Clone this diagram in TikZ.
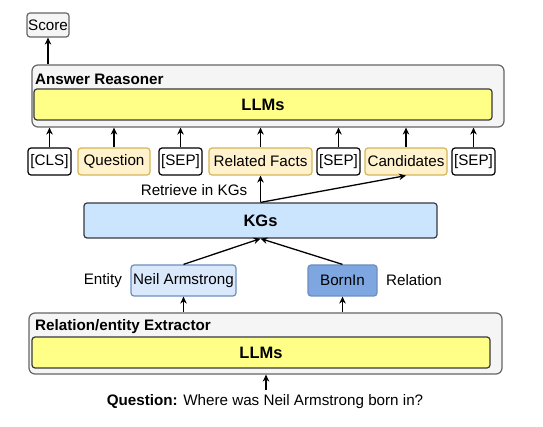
\documentclass[tikz,border=0pt]{standalone}
\usepackage{fontspec}
\setmainfont{Liberation Sans}
\usetikzlibrary{positioning, arrows.meta}

\definecolor{boxgray}{HTML}{F5F5F5}
\definecolor{linegray}{HTML}{666666}
\definecolor{llmfill}{HTML}{FFFF88}
\definecolor{darkline}{HTML}{36393D}
\definecolor{tokfill}{HTML}{FFF2CC}
\definecolor{tokline}{HTML}{D6B656}
\definecolor{kgfill}{HTML}{CCE5FF}
\definecolor{entfill}{HTML}{DAE8FC}
\definecolor{relfill}{HTML}{7EA6E0}
\definecolor{blueline}{HTML}{6C8EBF}

\tikzset{
    every node/.style={font=\fontsize{15.2}{18}\selectfont},
    frame/.style={draw=linegray, fill=boxgray, rounded corners=6pt, line width=1.2pt},
    llm/.style={draw=darkline, fill=llmfill, rounded corners=3pt, line width=1.2pt,
        minimum width=458pt, minimum height=31pt, font=\fontsize{16.5}{19}\selectfont\bfseries},
    tok/.style={draw=black, fill=white, rounded corners=3pt, line width=1.2pt,
        minimum width=43pt, minimum height=27pt, inner sep=1pt},
    ytok/.style={tok, draw=tokline, fill=tokfill},
    arr/.style={line width=1.3pt, -{Stealth[length=7pt, width=6.5pt]}}
}

\begin{document}
\begin{tikzpicture}[x=1pt, y=-1pt]
    \useasboundingbox (0,0) rectangle (543,427);

    % answer reasoner
    \node [draw=linegray, fill=boxgray, rounded corners=3pt, line width=1.2pt,
        minimum width=42pt, minimum height=24pt, inner sep=1pt] (score) at (48,25) {Score};
    \node [frame, minimum width=472pt, minimum height=62pt] (reasoner) at (268,96) {};
    \node [anchor=west, inner sep=0pt, font=\fontsize{15.2}{18}\selectfont\bfseries]
        (reasonerName) at (35,79) {Answer Reasoner};
    \node [llm] (llmTop) at (263,104.5) {LLMs};

    % input tokens
    \node [tok] (cls) at (49.5,161.5) {[CLS]};
    \node [ytok, minimum width=72pt] (question) at (114,161.5) {Question};
    \node [tok] (sepA) at (180.5,161.5) {[SEP]};
    \node [ytok, minimum width=103pt] (facts) at (260.5,161.5) {Related Facts};
    \node [tok] (sepB) at (338.5,161.5) {[SEP]};
    \node [ytok, minimum width=82pt] (cand) at (406,161.5) {Candidates};
    \node [tok] (sepC) at (473.5,161.5) {[SEP]};

    \draw [arr] (score |- reasoner.north) -- (score);
    \foreach \t in {cls, question, sepA, facts, sepB, cand, sepC}
        \draw [arr] (\t) -- (\t |- reasoner.south);

    % knowledge graphs
    \node [draw=darkline, fill=kgfill, rounded corners=3pt, line width=1.2pt,
        minimum width=353pt, minimum height=35pt, font=\fontsize{16.5}{19}\selectfont\bfseries]
        (kgs) at (260.5,220.5) {KGs};
    \node (retrieve) at (194,190) {Retrieve in KGs};

    \draw [arr] (kgs.north) -- (kgs.north |- facts.south);
    \draw [arr] (kgs.north) -- (cand.south);

    % entity and relation
    \node [draw=blueline, fill=entfill, rounded corners=3pt, line width=1.2pt,
        minimum width=105pt, minimum height=31pt, inner sep=1pt] (neil) at (183.5,280.5) {Neil Armstrong};
    \node [draw=blueline, fill=relfill, rounded corners=3pt, line width=1.2pt,
        minimum width=69pt, minimum height=31pt, inner sep=1pt] (born) at (342.5,280.5) {BornIn};
    \node [left=5pt of neil] (entityName) {Entity};
    \node [right=5pt of born] (relationName) {Relation};

    \draw [arr] (neil.north) -- (kgs.south);
    \draw [arr] (born.north) -- (kgs.south);

    % relation/entity extractor
    \node [frame, minimum width=473pt, minimum height=61pt] (extractor) at (265.5,343.5) {};
    \node [anchor=west, inner sep=0pt, font=\fontsize{15.2}{18}\selectfont\bfseries]
        (extractorName) at (35,327) {Relation/entity Extractor};
    \node [llm] (llmBottom) at (261,352.5) {LLMs};

    \draw [arr] (neil |- extractor.north) -- (neil);
    \draw [arr] (born |- extractor.north) -- (born);

    \node (input) at (265,402) {\textbf{Question:} Where was Neil Armstrong born in?};
    \coordinate (inputTop) at (266,390);
    \draw [arr] (inputTop) -- (inputTop |- extractor.south);
\end{tikzpicture}
\end{document}
